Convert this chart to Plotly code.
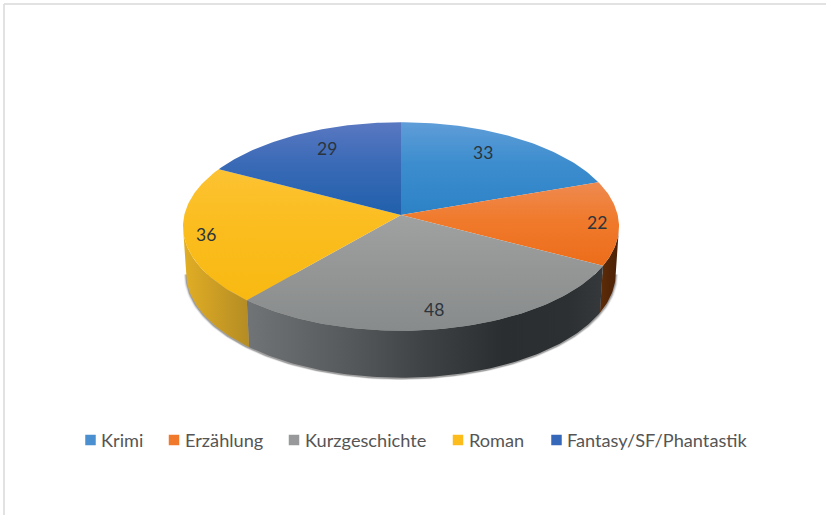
import numpy as np
import plotly.graph_objects as go

categories = ["Krimi", "Erzählung", "Kurzgeschichte", "Roman", "Fantasy/SF/Phantastik"]
values = [33, 22, 48, 36, 29]

# style: slice colours and gradients (light, mid, deep from top to bottom)
legend_colors = ["#4a90d0", "#f0792c", "#97999a", "#fbbc1c", "#3568b8"]
top_gradients = [
    ["#5f9dd8", "#3c8dce", "#2c82c6"],
    ["#ee8a50", "#f07a2c", "#ec6d1a"],
    ["#a0a2a2", "#959797", "#888b8b"],
    ["#fcc232", "#fbbd1e", "#f8b912"],
    ["#5a78c2", "#3a6ab6", "#2060ac"],
]
wall_gradients = {
    1: [[0, "#5e2c08"], [1, "#4a2006"]],
    2: [[0, "#717476"], [0.3, "#55585a"], [0.5, "#3f4244"], [0.72, "#2a2e30"], [0.9, "#2c3032"], [1, "#35393b"]],
    3: [[0, "#e2ae24"], [1, "#b48c24"]],
}
# style: pie geometry in page pixels
CX, CY, RX, RY, K = 401, 215, 216.7, 103, 0.11
WALL_DY, WALL_SX, WALL_SY = 47, 0.985, 1.0
SILHOUETTE = np.degrees(np.arccos(-K))
label_r = [0.771, 0.90, 0.841, 0.90, 0.781]
label_shift = [-3.6, 0.6, 1.2, -0.9, 3.1]
legend_marker_x = [90.5, 174, 294, 458, 556.5]
LEGEND_Y = 440


def project(theta_deg, r=1.0, dy=0.0, sx=1.0, sy=1.0):
    t = np.radians(theta_deg)
    X, Y = r * np.sin(t), r * np.cos(t)
    d = 1 + K * Y
    return CX + sx * RX * X / d, CY + dy - sy * RY * Y / d


def arc(a, b):
    return np.linspace(a, b, max(int(abs(b - a)) + 2, 2))


total = sum(values)
edges = np.concatenate([[0], np.cumsum(values)]) / total * 360

fig = go.Figure()


def poly(x, y, **kw):
    fig.add_trace(go.Scatter(x=x, y=y, mode="lines", fill="toself", line=dict(width=0),
                             hoverinfo="skip", showlegend=False, **kw))


# soft shadow below the wall
for grow, alpha in [(1.012, 0.07), (1.008, 0.14), (1.004, 0.3)]:
    x, y = project(arc(SILHOUETTE, 360 - SILHOUETTE), dy=WALL_DY + 1.0,
                   sx=WALL_SX * grow, sy=WALL_SY * grow)
    poly(x, y, fillcolor=f"rgba(40,40,40,{alpha})")

# side walls
for i in wall_gradients:
    a = max(edges[i], SILHOUETTE)
    b = min(edges[i + 1], 360 - SILHOUETTE)
    tx, ty = project(arc(a, b))
    bx, by = project(arc(b, a), dy=WALL_DY, sx=WALL_SX, sy=WALL_SY)
    poly(np.concatenate([tx, bx]), np.concatenate([ty, by]),
         fillgradient=dict(type="horizontal", colorscale=wall_gradients[i]))

# top faces (a vertical gradient's 0 stop sits at the lower edge on this reversed axis)
for i, grad in enumerate(top_gradients):
    x, y = project(arc(edges[i], edges[i + 1]))
    poly(np.concatenate([[CX], x]), np.concatenate([[CY], y]),
         fillgradient=dict(type="vertical",
                           colorscale=[[0, grad[2]], [0.55, grad[1]], [1, grad[0]]]))

annotations = []
# value labels
for i, v in enumerate(values):
    lx, ly = project((edges[i] + edges[i + 1]) / 2 + label_shift[i], r=label_r[i])
    annotations.append(dict(x=float(lx), y=float(ly), text=str(v), showarrow=False,
                            font=dict(family="Lato", size=17.5, color="#2b343c")))

# legend
fig.add_trace(go.Scatter(x=legend_marker_x, y=[LEGEND_Y] * 5, mode="markers", hoverinfo="skip",
                         showlegend=False,
                         marker=dict(symbol="square", size=10.5, color=legend_colors, line=dict(width=0))))
for mx, name in zip(legend_marker_x, categories):
    annotations.append(dict(x=mx + 8.5, y=LEGEND_Y, text=name, showarrow=False, xanchor="left",
                            font=dict(family="Lato", size=18.2, color="#555555")))

fig.update_layout(
    width=826, height=515, margin=dict(l=0, r=0, t=0, b=0),
    paper_bgcolor="white", plot_bgcolor="white", showlegend=False,
    xaxis=dict(range=[0, 826], visible=False, fixedrange=True),
    yaxis=dict(range=[515, 0], visible=False, fixedrange=True),
    annotations=annotations,
    shapes=[
        dict(type="line", x0=4, x1=4, y0=4, y1=515, line=dict(color="#d9d9d9", width=1.5)),
        dict(type="line", x0=4, x1=826, y0=4, y1=4, line=dict(color="#d9d9d9", width=1.5)),
    ],
)
fig.write_html("out.html", config=dict(displayModeBar=False),
               post_script="document.body.style.margin='0';document.body.style.overflow='hidden';")
